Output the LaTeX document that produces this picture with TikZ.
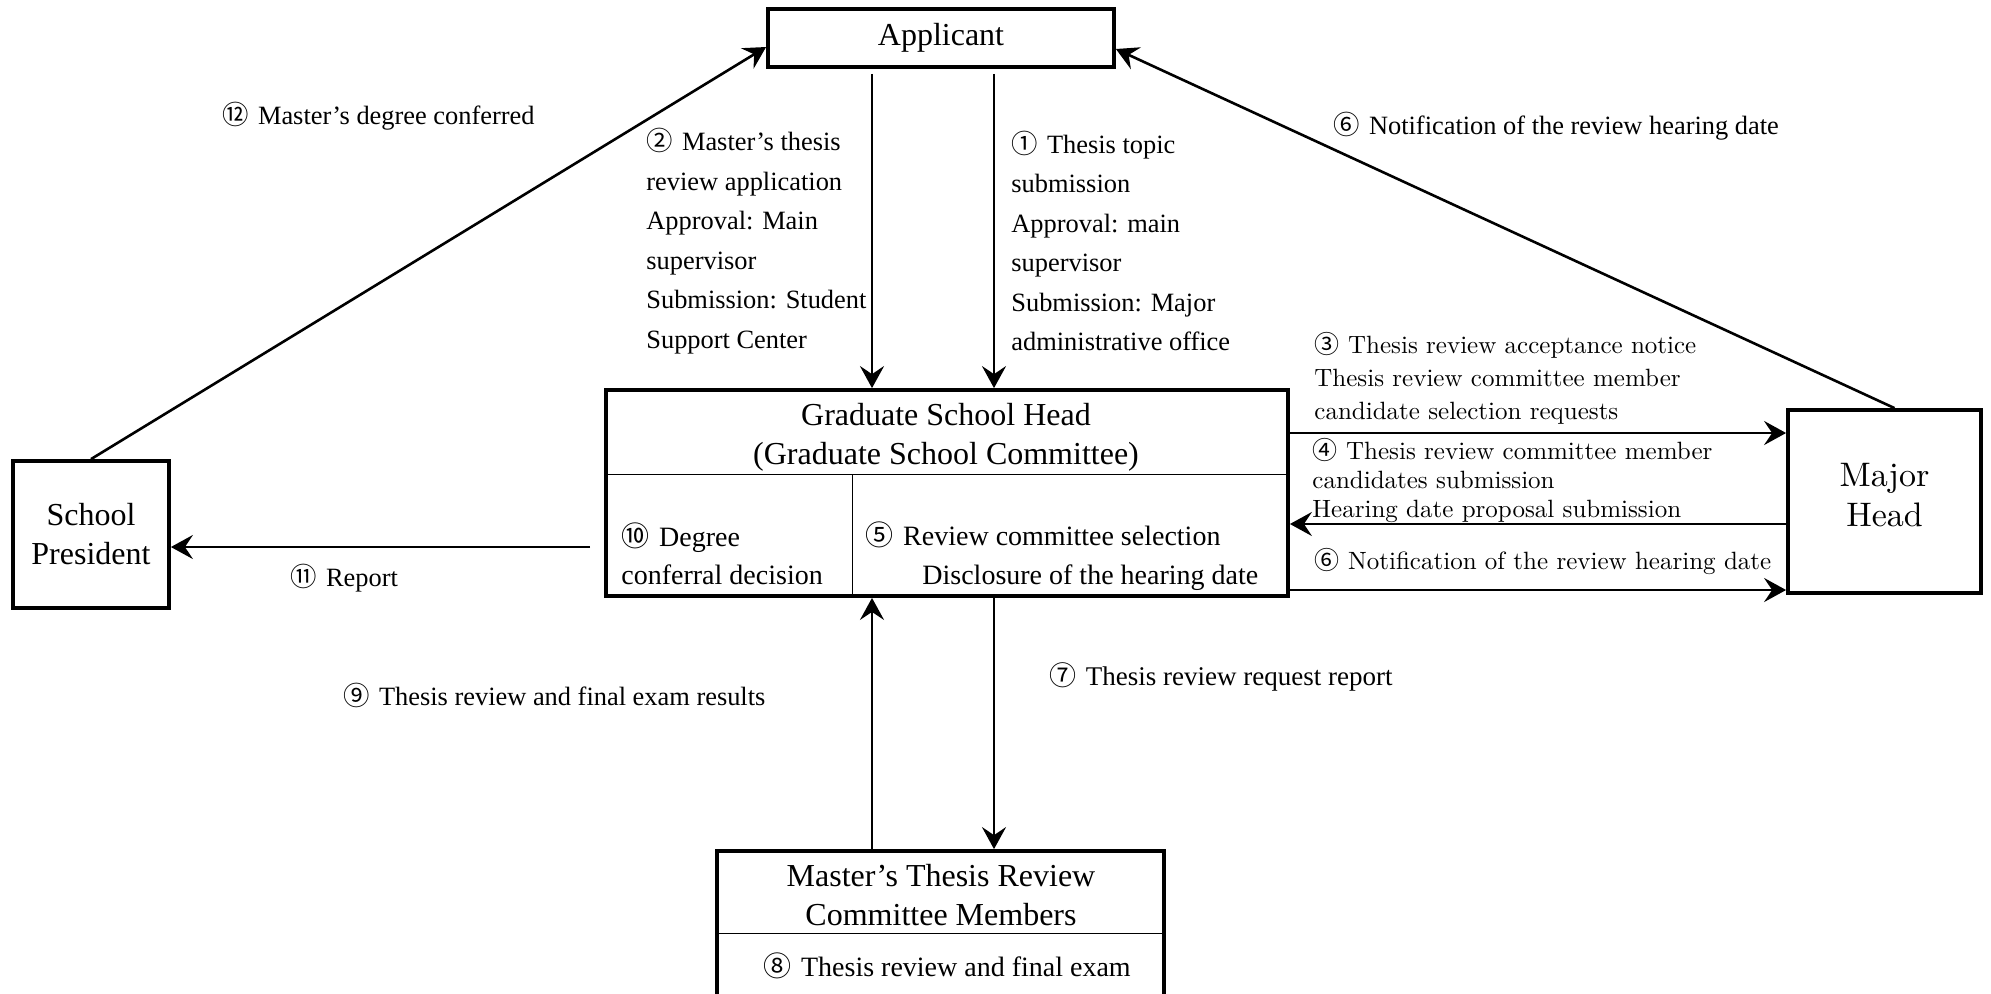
\documentclass[tikz,border=0pt]{standalone}
\usepackage{fontspec}
\setmainfont{Liberation Serif}
\newfontfamily\lmr{lmroman10-regular.otf}
\newfontfamily\cjk{Noto Sans CJK JP}
\usetikzlibrary{arrows.meta}
\newcommand\cn[1]{{\cjk #1}\hspace{0.35em}}
\begin{document}
\begin{tikzpicture}[x=0.5pt,y=-0.5pt,
  box/.style={draw, line width=1.9pt, inner sep=0pt, align=center, font=\fontsize{16}{19.5}\selectfont},
  arr/.style={line width=1.3pt, -{Stealth[length=11pt,width=12pt,inset=4pt]}},
  thinline/.style={line width=0.5pt},
  lbl/.style={inner sep=0pt, align=left, anchor=west, font=\fontsize{13.2}{19.75}\selectfont},
  inlbl/.style={inner sep=0pt, align=left, anchor=west, font=\fontsize{14}{19}\selectfont},
  lbllm/.style={inner sep=0pt, align=left, anchor=west, font=\lmr\fontsize{12.5}{16.5}\selectfont},
  boxtext/.style={inner sep=0pt, align=center, font=\fontsize{16}{19.5}\selectfont}]
\useasboundingbox (0,0) rectangle (1991,993);
\clip (0,0) rectangle (1991,993);
% boxes
\node[box, minimum width=173pt, minimum height=29pt] (app) at (941,38) {Applicant};
\node[box, minimum width=341pt, minimum height=103pt] (gsh) at (947,493) {};
\node[box, minimum width=96.5pt, minimum height=91.5pt, text depth=0pt] (major) at (1884.5,501.5) {};
\node[box, minimum width=78pt, minimum height=73.5pt] (pres) at (91,534.5) {School\\President};
\node[box, minimum width=223.5pt, minimum height=79.5pt] (mem) at (940.5,930.5) {};
% box contents
\node[inner sep=0pt, align=center, font=\lmr\fontsize{17}{20}\selectfont] (majorT) at (1884.5,495) {Major\\Head};
\node[boxtext] (gshT) at (946,437.5) {Graduate School Head\\(Graduate School Committee)};
\coordinate (h1) at (0,474);
\coordinate (v1) at (852,0);
\draw[thinline] (gsh.west |- h1) -- (gsh.east |- h1);
\draw[thinline] (v1 |- h1) -- (gsh.south -| v1);
\node[inlbl] (l10) at (621,554) {\cn{⑩}Degree\\conferral decision};
\node[inlbl] (l5a) at (865,535) {\cn{⑤}Review committee selection};
\node[inlbl] (l5b) at (922,578) {Disclosure of the hearing date};
\node[boxtext] (memT) at (941,895) {Master’s Thesis Review\\Committee Members};
\coordinate (h2) at (0,933);
\draw[thinline] (mem.west |- h2) -- (mem.east |- h2);
\node[boxtext, font=\fontsize{14}{17}\selectfont] (l8) at (947,966) {\cn{⑧}Thesis review and final exam};
% helper coordinates
\coordinate (xa) at (872,0);
\coordinate (xb) at (994,0);
\coordinate (y3) at (0,433);
\coordinate (y4) at (0,524);
\coordinate (y6) at (0,590);
\coordinate (y11) at (0,547);
% connectors
\draw[arr] ([yshift=-2.5pt]app.south -| xa) -- (gsh.north -| xa);
\draw[arr] ([yshift=-2.5pt]app.south -| xb) -- (gsh.north -| xb);
\draw[arr] (pres.north) -- ([yshift=-4.5pt]app.west);
\draw[arr] ([xshift=5pt]major.north) -- ([yshift=-5.5pt]app.east);
\draw[arr] (gsh.east |- y3) -- (major.west |- y3);
\draw[arr] (major.west |- y4) -- (gsh.east |- y4);
\draw[arr] (gsh.east |- y6) -- (major.west |- y6);
\draw[arr] ([xshift=-7pt]gsh.west |- y11) -- (pres.east |- y11);
\draw[arr] (gsh.south -| xb) -- (mem.north -| xb);
\draw[arr] (mem.north -| xa) -- (gsh.south -| xa);
% labels
\node[lbl] (l12) at (222,116) {\cn{⑫}Master’s degree conferred};
\node[lbl] (l2) at (646,241) {\cn{②}Master’s thesis\\review application\\Approval: Main\\supervisor\\Submission: Student\\Support Center};
\node[lbl] (l1) at (1011,241) {\cn{①}Thesis topic\\submission\\Approval: main\\supervisor\\Submission: Major\\administrative office};
\node[lbl] (l6t) at (1333,126) {\cn{⑥}Notification of the review hearing date};
\node[lbllm] (l3) at (1314,378) {\cn{③}Thesis review acceptance notice\\Thesis review committee member\\candidate selection requests};
\node[lbllm, font=\lmr\fontsize{12.5}{14.5}\selectfont] (l4) at (1312,480) {\cn{④}Thesis review committee member\\candidates submission\\Hearing date proposal submission};
\node[lbllm] (l6r) at (1314,561) {\cn{⑥}Notification of the review hearing date};
\node[lbl] (l11) at (290,578) {\cn{⑪}Report};
\node[lbl] (l9) at (343,695) {\cn{⑨}Thesis review and final exam results};
\node[lbl, font=\fontsize{13.5}{16}\selectfont] (l7) at (1049,677) {\cn{⑦}Thesis review request report};
\end{tikzpicture}
\end{document}
